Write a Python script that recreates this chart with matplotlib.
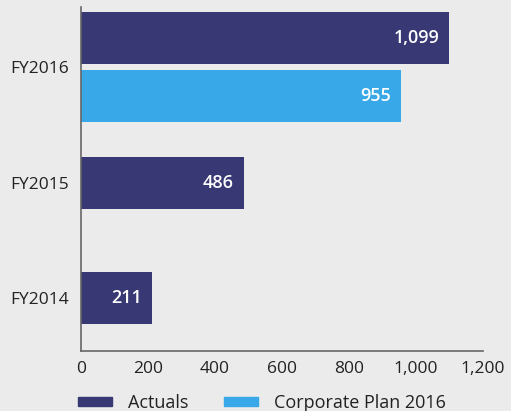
import matplotlib
matplotlib.use("Agg")
import matplotlib.pyplot as plt
from matplotlib.patches import Patch

categories = ["FY2014", "FY2015", "FY2016"]
actuals = [211, 486, 1099]
plan = [None, None, 955]
actual_labels = ["211", "486", "1,099"]
plan_labels = [None, None, "955"]
xticks = [0, 200, 400, 600, 800, 1000, 1200]
xtick_labels = ["0", "200", "400", "600", "800", "1,000", "1,200"]

navy = "#373874"
blue = "#38a8e8"
bg = "#ebebeb"

plt.rcParams['font.family'] = ['Open Sans', 'DejaVu Sans']

fig = plt.figure(figsize=(5.11, 4.11), dpi=100, facecolor=bg)
ax = fig.add_axes([81/511, 60/411, 402/511, 344/411], facecolor=bg)

h = 0.45
off = 0.25
for i, cat in enumerate(categories):
    has_plan = plan[i] is not None
    ya = i + off if has_plan else i
    ax.barh(ya, actuals[i], height=h, color=navy)
    ax.annotate(actual_labels[i], (actuals[i], ya), xytext=(-7, 0), textcoords="offset points",
                ha="right", va="center", color="white", fontsize=13, fontweight="semibold")
    if has_plan:
        yp = i - off
        ax.barh(yp, plan[i], height=h, color=blue)
        ax.annotate(plan_labels[i], (plan[i], yp), xytext=(-7, 0), textcoords="offset points",
                    ha="right", va="center", color="white", fontsize=13, fontweight="semibold")

ax.set_xlim(0, 1200)
ax.set_ylim(-0.457, 2.52)
ax.set_yticks(range(len(categories)))
ax.set_yticklabels(categories, fontsize=12.5, color="#222222")
ax.set_xticks(xticks)
ax.set_xticklabels(xtick_labels, fontsize=12.5, color="#222222")
ax.tick_params(length=0, pad=7)
ax.tick_params(axis="y", pad=9)
for s in ["top", "right"]:
    ax.spines[s].set_visible(False)
for s in ["left", "bottom"]:
    ax.spines[s].set_color("#666666")
    ax.spines[s].set_linewidth(1.2)

handles = [Patch(color=navy, label="Actuals"), Patch(color=blue, label="Corporate Plan 2016")]
fig.legend(handles=handles, loc="center", bbox_to_anchor=(262/511, 1 - 403/411), ncol=2,
           frameon=False, fontsize=13, handlelength=1.85, handleheight=0.4, columnspacing=2.0,
           handletextpad=0.9, labelcolor="#222222")

fig.savefig("out.png", dpi=100, facecolor=bg)
